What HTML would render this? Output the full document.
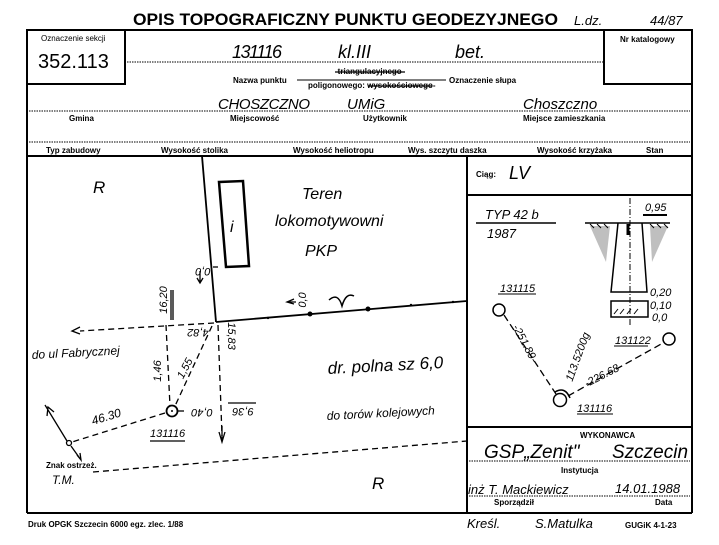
<!DOCTYPE html>
<html><head><meta charset="utf-8"><style>
html,body{margin:0;padding:0;background:#fff;}
svg{display:block;}
text{font-family:"Liberation Sans",sans-serif;fill:#000;}
.s{font-size:8px;font-weight:bold;}
.h{font-style:italic;font-family:"Liberation Sans",sans-serif;}
</style></head><body>
<svg width="719" height="545" viewBox="0 0 719 545" xmlns="http://www.w3.org/2000/svg">
<rect width="719" height="545" fill="#fff"/>
<text x="133" y="25" font-size="17" font-weight="bold" textLength="425" lengthAdjust="spacingAndGlyphs">OPIS TOPOGRAFICZNY PUNKTU GEODEZYJNEGO</text>
<text x="574" y="25" class="h" font-size="13">L.dz.</text>
<text x="650" y="25" class="h" font-size="13">44/87</text>
<g stroke="#000" fill="none" stroke-width="2">
<rect x="27" y="30" width="98" height="54"/>
<rect x="604" y="30" width="88" height="54"/>
<line x1="125" y1="30" x2="604" y2="30"/>
<line x1="27" y1="84" x2="27" y2="513"/>
<line x1="692" y1="84" x2="692" y2="513"/>
<line x1="27" y1="156" x2="692" y2="156"/>
<line x1="27" y1="513" x2="692" y2="513"/>
<line x1="467" y1="156" x2="467" y2="513"/>
<line x1="467" y1="195" x2="692" y2="195"/>
<line x1="467" y1="427" x2="692" y2="427"/>
</g>
<text x="41" y="41" font-size="8">Oznaczenie sekcji</text>
<text x="38" y="68" font-size="20">352.113</text>
<text x="620" y="42" class="s">Nr katalogowy</text>
<g stroke="#000" stroke-width="1" stroke-dasharray="1.5,1">
<line x1="127" y1="62" x2="604" y2="62"/>
<line x1="29" y1="111" x2="690" y2="111"/>
<line x1="29" y1="142" x2="690" y2="142"/>
<line x1="469" y1="461" x2="690" y2="461"/>
<line x1="469" y1="496" x2="690" y2="496"/>
</g>
<text x="232" y="58" class="h" font-size="18" textLength="50">131116</text>
<text x="338" y="58" class="h" font-size="18">kl.III</text>
<text x="455" y="58" class="h" font-size="18">bet.</text>
<text x="233" y="83" class="s">Nazwa punktu</text>
<line x1="297" y1="80" x2="446" y2="80" stroke="#000"/>
<text x="335" y="74" class="s" font-size="7">-triangulacyjnego-</text>
<line x1="335" y1="72" x2="405" y2="72" stroke="#000" stroke-width="1.2"/>
<text x="308" y="88" class="s" font-size="7">poligonowego: wysokościowego-</text>
<line x1="368" y1="86" x2="432" y2="86" stroke="#000" stroke-width="1.2"/>
<text x="449" y="83" class="s">Oznaczenie słupa</text>
<text x="218" y="109" class="h" font-size="15" textLength="92">CHOSZCZNO</text>
<text x="347" y="109" class="h" font-size="15">UMiG</text>
<text x="523" y="109" class="h" font-size="15">Choszczno</text>
<text x="69" y="121" class="s">Gmina</text>
<text x="230" y="121" class="s">Miejscowość</text>
<text x="363" y="121" class="s">Użytkownik</text>
<text x="523" y="121" class="s">Miejsce zamieszkania</text>
<text x="46" y="153" class="s">Typ zabudowy</text>
<text x="161" y="153" class="s">Wysokość stolika</text>
<text x="293" y="153" class="s">Wysokość heliotropu</text>
<text x="408" y="153" class="s">Wys. szczytu daszka</text>
<text x="537" y="153" class="s">Wysokość krzyżaka</text>
<text x="646" y="153" class="s">Stan</text>
<g stroke="#000" fill="none" stroke-width="1.8">
<line x1="202" y1="156" x2="216" y2="322"/>
<polygon points="219,182 243,181 249,266 226,267" stroke-width="2.5"/>
<line x1="216" y1="322" x2="467" y2="301"/>
<path d="M329,300 Q338,292 342,306 Q346,292 354,296" stroke-width="1.5"/>
</g>
<g fill="#000"><circle cx="310" cy="314" r="2.5"/><circle cx="368" cy="309" r="2.5"/><circle cx="268" cy="318" r="1.2"/><circle cx="411" cy="305" r="1.2"/><circle cx="453" cy="302" r="1.2"/></g>
<g stroke="#000" fill="none" stroke-width="1.3" stroke-dasharray="6,4">
<line x1="214" y1="323" x2="80" y2="331"/>
<line x1="166" y1="325" x2="170" y2="406"/>
<line x1="212" y1="326" x2="175" y2="406"/>
<line x1="218" y1="325" x2="222" y2="436"/>
<line x1="165" y1="413" x2="72" y2="442"/>
<line x1="93" y1="472" x2="467" y2="441"/>
<line x1="178" y1="411" x2="186" y2="411"/>
</g>
<g stroke="#000" fill="none" stroke-width="1.3">
<path d="M80,327 L72,331 L80,334"/>
<path d="M222,426 L222,442 M219,432 L222,442 L225,432"/>
<path d="M200,271 L200,283 M197,278 L200,283 L203,278"/>
<path d="M213,267 L218,267"/>
<path d="M294,299 L287,302 L294,304 M287,302 L296,302"/>
<circle cx="172" cy="411" r="5.5" stroke-width="1.8"/>
<circle cx="69" cy="443" r="2.5"/>
<path d="M45,405 L67,441 M47,416 L48,407 L54,412"/>
<path d="M71,446 L81,460 M77,455 L81,460 L80,453"/>
<line x1="171" y1="290" x2="171" y2="320"/><line x1="173" y1="290" x2="173" y2="320"/>
<line x1="228" y1="403" x2="256" y2="403"/>
<line x1="150" y1="441" x2="185" y2="441"/>
</g>
<circle cx="172" cy="411" r="1" fill="#000"/>
<text x="93" y="193" class="h" font-size="17">R</text>
<text x="372" y="489" class="h" font-size="17">R</text>
<text x="302" y="199" class="h" font-size="16">Teren</text>
<text x="275" y="226" class="h" font-size="16">lokomotywowni</text>
<text x="305" y="256" class="h" font-size="16">PKP</text>
<text x="230" y="232" class="h" font-size="16">i</text>
<text x="32" y="359" class="h" font-size="12" transform="rotate(-3 32 359)">do ul Fabrycznej</text>
<text x="328" y="374" class="h" font-size="17" transform="rotate(-3 328 374)">dr. polna sz 6,0</text>
<text x="327" y="420" class="h" font-size="12" transform="rotate(-3 327 420)">do torów kolejowych</text>
<text x="150" y="437" class="h" font-size="11">131116</text>
<text x="93" y="425" class="h" font-size="12" transform="rotate(-17 93 425)">46.30</text>
<text x="46" y="468" class="s" font-size="7">Znak ostrzeż.</text>
<text x="52" y="484" class="h" font-size="12">T.M.</text>
<text x="0" y="0" class="h" font-size="11" transform="translate(167,300) rotate(-90)" text-anchor="middle">16,20</text>
<text x="0" y="0" class="h" font-size="11" transform="translate(161,371) rotate(-90)" text-anchor="middle">1,46</text>
<text x="0" y="0" class="h" font-size="11" transform="translate(188,370) rotate(-62)" text-anchor="middle">1,55</text>
<text x="0" y="0" class="h" font-size="11" transform="translate(198,329) rotate(180)" text-anchor="middle">4,82</text>
<text x="0" y="0" class="h" font-size="11" transform="translate(228,336) rotate(90)" text-anchor="middle">15,83</text>
<text x="0" y="0" class="h" font-size="11" transform="translate(202,409) rotate(180)" text-anchor="middle">0,40</text>
<text x="0" y="0" class="h" font-size="11" transform="translate(243,408) rotate(180)" text-anchor="middle">9,36</text>
<text x="0" y="0" class="h" font-size="11" transform="translate(203,268) rotate(180)" text-anchor="middle">0,0</text>
<text x="0" y="0" class="h" font-size="11" transform="translate(306,300) rotate(-90)" text-anchor="middle">0,0</text>
<text x="476" y="177" class="s">Ciąg:</text>
<text x="509" y="179" class="h" font-size="18">LV</text>
<text x="485" y="219" class="h" font-size="13">TYP  42 b</text>
<line x1="476" y1="223" x2="556" y2="223" stroke="#000" stroke-width="1.5"/>
<text x="487" y="238" class="h" font-size="13">1987</text>
<g fill="#000" opacity="0.25"><path d="M590,226 L610,226 L606,262 Z M650,226 L668,226 L652,262 Z"/></g>
<g stroke="#000" fill="none" stroke-width="1.5">
<line x1="585" y1="223" x2="670" y2="223"/>
<path d="M618,223 L611,292 L647,292 L642,223"/>
<rect x="611" y="301" width="37" height="16"/>
<line x1="630" y1="198" x2="630" y2="327" stroke-dasharray="6,2,1,2" stroke-width="1"/>
<line x1="628" y1="224" x2="628" y2="235" stroke-width="3"/>
<path d="M590,224 L594,228 M597,224 L601,228 M604,224 L608,228 M650,224 L654,228 M657,224 L661,228 M664,224 L668,228 M614,314 L618,309 M620,314 L624,309 M627,314 L631,309 M634,314 L638,309" stroke-width="1"/>
<line x1="643" y1="215" x2="667" y2="215" stroke-width="2"/>
<circle cx="499" cy="310" r="6"/>
<circle cx="560" cy="400" r="6.5"/>
<circle cx="669" cy="339" r="6"/>
<path d="M555,392 Q565,386 570,398" />
<line x1="498" y1="294" x2="536" y2="294" stroke-width="1"/>
<line x1="577" y1="414" x2="613" y2="414" stroke-width="1"/>
<line x1="614" y1="346" x2="648" y2="346" stroke-width="1"/>
</g>
<g stroke="#000" fill="none" stroke-width="1.3" stroke-dasharray="7,4">
<line x1="504" y1="315" x2="556" y2="394"/>
<line x1="568" y1="396" x2="663" y2="343"/>
</g>
<text x="645" y="211" class="h" font-size="11">0,95</text>
<text x="650" y="296" class="h" font-size="11">0,20</text>
<text x="650" y="309" class="h" font-size="11">0,10</text>
<text x="652" y="321" class="h" font-size="11">0,0</text>
<text x="500" y="292" class="h" font-size="11">131115</text>
<text x="577" y="412" class="h" font-size="11">131116</text>
<text x="615" y="344" class="h" font-size="11">131122</text>
<text x="0" y="0" class="h" font-size="11" transform="translate(522,345) rotate(62)" text-anchor="middle">-251.89-</text>
<text x="0" y="0" class="h" font-size="11" transform="translate(581,358) rotate(-70)" text-anchor="middle">113.5200g</text>
<text x="0" y="0" class="h" font-size="11" transform="translate(605,378) rotate(-27)" text-anchor="middle">-226.68-</text>
<text x="580" y="438" class="s" font-size="7">WYKONAWCA</text>
<text x="484" y="458" class="h" font-size="19">GSP„Zenit"</text>
<text x="612" y="458" class="h" font-size="19">Szczecin</text>
<text x="561" y="473" class="s" font-size="7">Instytucja</text>
<text x="468" y="494" class="h" font-size="13">inż T. Mackiewicz</text>
<text x="615" y="493" class="h" font-size="13">14.01.1988</text>
<text x="494" y="505" class="s" font-size="7">Sporządził</text>
<text x="655" y="505" class="s" font-size="7">Data</text>
<text x="467" y="528" class="h" font-size="13">Kreśl.</text>
<text x="535" y="528" class="h" font-size="13">S.Matulka</text>
<text x="625" y="528" class="s" font-size="8.5">GUGiK 4-1-23</text>
<text x="28" y="527" class="s" font-size="7">Druk OPGK Szczecin 6000 egz. zlec. 1/88</text>
</svg>
</body></html>
